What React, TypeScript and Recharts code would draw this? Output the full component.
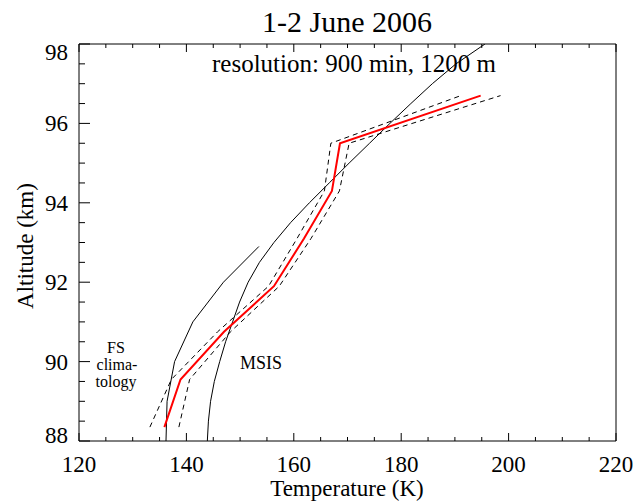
import React from "react";
import { LineChart, Line, XAxis, YAxis } from "recharts";

// axis ticks (minor + major) and which ones get a label
const temperatureTicks = [120, 125, 130, 135, 140, 145, 150, 155, 160, 165, 170, 175, 180, 185, 190, 195, 200, 205, 210, 215, 220];
const temperatureLabels = [120, 140, 160, 180, 200, 220];
const altitudeTicks = [88, 88.5, 89, 89.5, 90, 90.5, 91, 91.5, 92, 92.5, 93, 93.5, 94, 94.5, 95, 95.5, 96, 96.5, 97, 97.5, 98];
const altitudeLabels = [88, 90, 92, 94, 96, 98];

// lidar profile, 1200 m bins
const lidarAltitude = [88.35, 89.55, 90.75, 91.9, 93.1, 94.3, 95.5, 96.7];
const lidarTemperature = [135.9, 138.9, 147.0, 156.3, 161.9, 167.1, 168.6, 194.8];
const lidarError = [2.7, 1.7, 1.2, 1.0, 1.3, 1.4, 1.7, 3.7];

// MSIS model
const msisAltitude = [88, 88.5, 89, 89.5, 90, 90.5, 91, 91.5, 92, 92.5, 93, 93.5, 94, 94.5, 95, 95.5, 96, 96.5, 97, 97.5, 98];
const msisTemperature = [143.9, 144.1, 144.5, 145.2, 146.2, 147.3, 148.6, 149.9, 151.5, 153.6, 156.3, 159.4, 162.9, 166.6, 170.3, 174.1, 177.9, 181.8, 185.8, 190.2, 195.6];

// Fort Collins (FS) climatology
const fsAltitude = [88, 89, 90, 91, 92, 92.9];
const fsTemperature = [136.2, 136.4, 137.8, 141.2, 146.9, 153.5];

const toProfile = (alts: number[], temps: number[]) => alts.map((alt, i) => ({ alt, t: temps[i] }));

const lidar = toProfile(lidarAltitude, lidarTemperature);
const lidarLow = toProfile(lidarAltitude, lidarTemperature.map((t, i) => t - lidarError[i]));
const lidarHigh = toProfile(lidarAltitude, lidarTemperature.map((t, i) => t + lidarError[i]));
const msis = toProfile(msisAltitude, msisTemperature);
const fs = toProfile(fsAltitude, fsTemperature);

const FONT = "'Liberation Serif', 'Times New Roman', serif";

const BottomTick = (props: any) => {
    const { x, y, payload } = props;
    const major = temperatureLabels.includes(payload.value);
    return (
        <g>
            <line x1={x} x2={x} y1={y} y2={y - (major ? 8 : 4)} stroke="#000" />
            {major && (
                <text x={x} y={y + 31} textAnchor="middle" fontFamily={FONT} fontSize={23} fill="#000">
                    {payload.value}
                </text>
            )}
        </g>
    );
};

const TopTick = (props: any) => {
    const { x, y, payload } = props;
    const major = temperatureLabels.includes(payload.value);
    return <line x1={x} x2={x} y1={y} y2={y + (major ? 8 : 4)} stroke="#000" />;
};

const LeftTick = (props: any) => {
    const { x, y, payload } = props;
    const major = altitudeLabels.includes(payload.value);
    // IDL keeps the end labels inside the frame
    const ly = Math.min(Math.max(y, 52), 435);
    return (
        <g>
            <line x1={x} x2={x + (major ? 11 : 6)} y1={y} y2={y} stroke="#000" />
            {major && (
                <text x={x - 11} y={ly} dy="0.35em" textAnchor="end" fontFamily={FONT} fontSize={23} fill="#000">
                    {payload.value}
                </text>
            )}
        </g>
    );
};

const RightTick = (props: any) => {
    const { x, y, payload } = props;
    const major = altitudeLabels.includes(payload.value);
    return <line x1={x} x2={x - (major ? 11 : 6)} y1={y} y2={y} stroke="#000" />;
};

export default function App() {
    return (
        <div style={{ position: "absolute", left: 0, top: 0, width: 636, height: 504, background: "#fff" }}>
            <LineChart
                width={636}
                height={504}
                layout="vertical"
                margin={{ top: 0, right: 0, bottom: 0, left: 0 }}
            >
                <XAxis
                    type="number"
                    dataKey="t"
                    domain={[120, 220]}
                    allowDataOverflow
                    ticks={temperatureTicks}
                    interval={0}
                    height={63}
                    tickSize={0}
                    tickMargin={0}
                    tickLine={false}
                    tick={BottomTick}
                    axisLine={{ stroke: "#000" }}
                />
                <XAxis
                    xAxisId="top"
                    orientation="top"
                    type="number"
                    domain={[120, 220]}
                    allowDataOverflow
                    ticks={temperatureTicks}
                    interval={0}
                    height={44}
                    tickSize={0}
                    tickMargin={0}
                    tickLine={false}
                    tick={TopTick}
                    axisLine={{ stroke: "#000" }}
                />
                <YAxis
                    type="number"
                    dataKey="alt"
                    domain={[88, 98]}
                    reversed
                    allowDataOverflow
                    ticks={altitudeTicks}
                    interval={0}
                    width={79}
                    tickSize={0}
                    tickMargin={0}
                    tickLine={false}
                    tick={LeftTick}
                    axisLine={{ stroke: "#000" }}
                />
                <YAxis
                    yAxisId="right"
                    orientation="right"
                    type="number"
                    domain={[88, 98]}
                    reversed
                    allowDataOverflow
                    ticks={altitudeTicks}
                    interval={0}
                    width={20}
                    tickSize={0}
                    tickMargin={0}
                    tickLine={false}
                    tick={RightTick}
                    axisLine={{ stroke: "#000" }}
                />
                <Line data={fs} dataKey="t" stroke="#000" strokeWidth={1} dot={false} isAnimationActive={false} />
                <Line data={msis} dataKey="t" stroke="#000" strokeWidth={1} dot={false} isAnimationActive={false} />
                <Line data={lidarLow} dataKey="t" stroke="#000" strokeWidth={1} strokeDasharray="5 4" dot={false} isAnimationActive={false} />
                <Line data={lidarHigh} dataKey="t" stroke="#000" strokeWidth={1} strokeDasharray="5 4" dot={false} isAnimationActive={false} />
                <Line data={lidar} dataKey="t" stroke="#ff0000" strokeWidth={2} dot={false} isAnimationActive={false} />
            </LineChart>

            <svg width={636} height={504} style={{ position: "absolute", left: 0, top: 0, pointerEvents: "none" }}>
                <g fontFamily={FONT} fill="#000" textAnchor="middle">
                    <text x={347} y={32} fontSize={30}>1-2 June 2006</text>
                    <text x={354} y={72} fontSize={25}>resolution: 900 min, 1200 m</text>
                    <text x={347} y={496} fontSize={23}>Temperature (K)</text>
                    <text x={33} y={246} fontSize={23} transform="rotate(-90 33 246)">Altitude (km)</text>
                    <text x={116} y={353} fontSize={16}>FS</text>
                    <text x={117} y={370} fontSize={16}>clima-</text>
                    <text x={116} y={387} fontSize={16}>tology</text>
                    <text x={261} y={369} fontSize={18}>MSIS</text>
                </g>
            </svg>
        </div>
    );
}
